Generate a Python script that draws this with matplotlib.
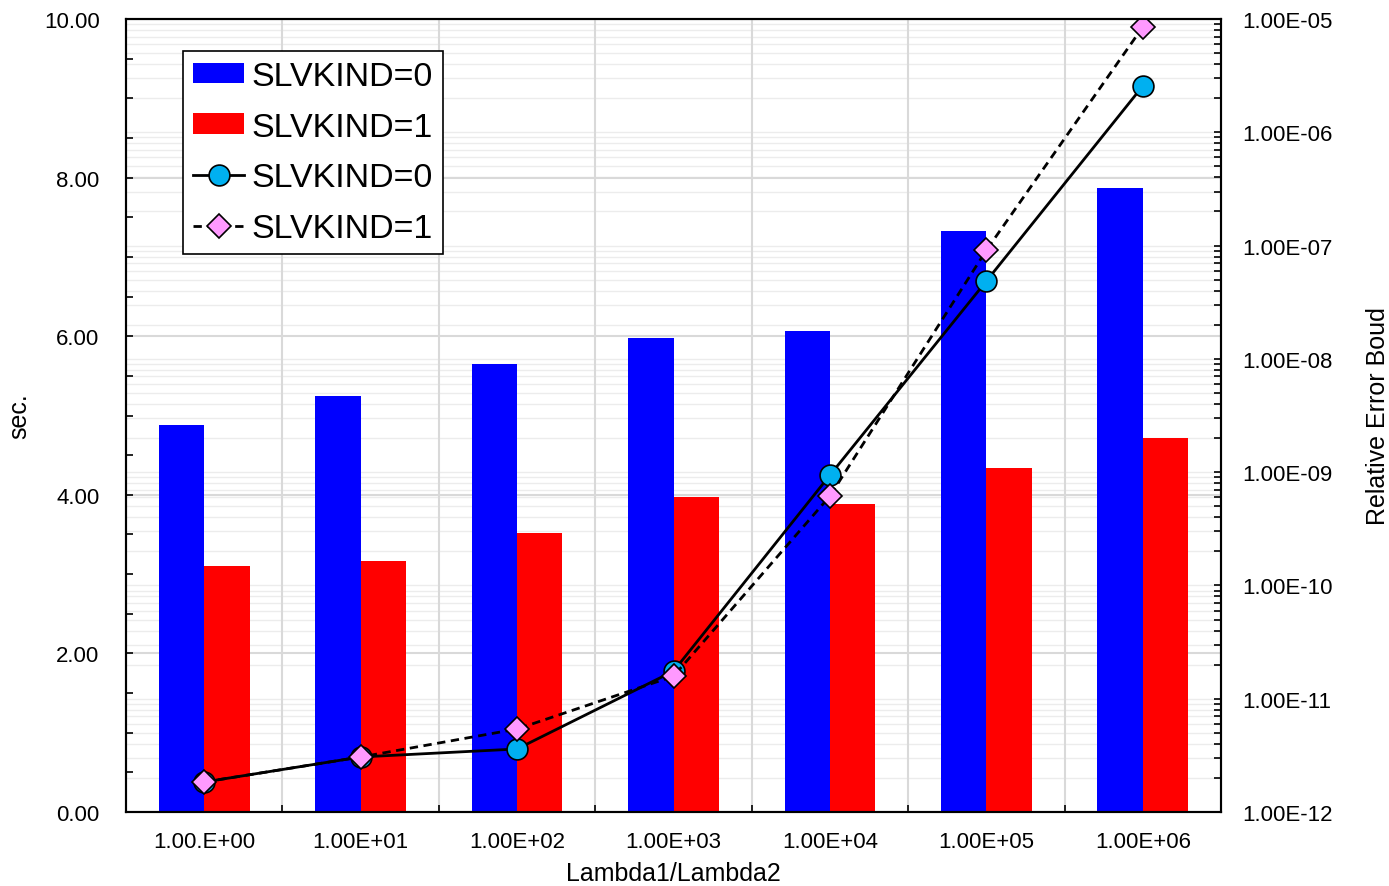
import numpy as np
import matplotlib.pyplot as plt
from matplotlib.ticker import FixedLocator, LogLocator, FuncFormatter, NullFormatter

plt.rcParams['font.family'] = ['Liberation Sans', 'DejaVu Sans']

categories = ['1.00.E+00', '1.00E+01', '1.00E+02', '1.00E+03', '1.00E+04', '1.00E+05', '1.00E+06']
time_slv0 = [4.88, 5.25, 5.65, 5.98, 6.07, 7.33, 7.87]
time_slv1 = [3.10, 3.16, 3.52, 3.97, 3.88, 4.34, 4.72]
err_slv0 = [1.84e-12, 3.06e-12, 3.6e-12, 1.75e-11, 9.4e-10, 4.86e-8, 2.56e-6]
err_slv1 = [1.84e-12, 3.06e-12, 5.4e-12, 1.58e-11, 6.15e-10, 9.1e-8, 8.5e-6]

x = np.arange(len(categories))
w = 0.29

fig = plt.figure(figsize=(13.89, 8.87), dpi=100)
rect = [126 / 1389, 74 / 887, 1095 / 1389, 793 / 887]

# grid-only log axes behind the bars
axg = fig.add_axes(rect)
axg.set_yscale('log')
axg.set_ylim(1e-12, 1e-5)
axg.set_xlim(-0.5, len(x) - 0.5)
axg.yaxis.set_minor_locator(LogLocator(base=10, subs=np.arange(2, 10), numticks=20))
axg.yaxis.set_major_locator(LogLocator(base=10, numticks=20))
axg.grid(True, which='both', axis='y', color='#ececec', lw=1)
axg.set_xticks([])
axg.yaxis.set_minor_formatter(NullFormatter())
axg.tick_params(which='both', length=0, labelleft=False, labelbottom=False)
for s in axg.spines.values():
    s.set_visible(False)

ax = fig.add_axes(rect)
ax.patch.set_visible(False)
ax.bar(x, time_slv0, width=-w, align='edge', color='#0000ff', label='SLVKIND=0', zorder=2)
ax.bar(x, time_slv1, width=w, align='edge', color='#ff0000', label='SLVKIND=1', zorder=2)
ax.set_xlim(-0.5, len(x) - 0.5)
ax.set_ylim(0, 10)
ax.set_yticks(np.arange(0, 10.01, 2))
ax.yaxis.set_minor_locator(FixedLocator(np.arange(0, 10.01, 0.5)))
ax.yaxis.set_major_formatter(FuncFormatter(lambda v, p: f'{v:.2f}'))
ax.set_xticks(x)
ax.set_xticklabels(categories)
ax.xaxis.set_minor_locator(FixedLocator(np.arange(0.5, len(x) - 0.5, 1)))
ax.grid(True, which='major', axis='y', color='#d9d9d9', lw=1.5, zorder=0)
ax.grid(True, which='minor', axis='x', color='#d9d9d9', lw=1.5, zorder=0)
ax.set_axisbelow(True)
ax.tick_params(axis='x', which='major', length=0, labelsize=16, pad=14)
ax.tick_params(axis='x', which='minor', direction='in', length=5, width=1.2)
ax.tick_params(axis='y', which='both', direction='in', length=5, width=1.2, labelsize=16, pad=19)
ax.set_ylabel('sec.', fontsize=18, labelpad=9)
ax.set_xlabel('Lambda1/Lambda2', fontsize=18, labelpad=6)
for s in ax.spines.values():
    s.set_linewidth(1.5)

ax2 = ax.twinx()
ax2.set_yscale('log')
ax2.set_ylim(1e-12, 1e-5)
ax2.plot(x, err_slv0, '-', color='black', lw=2, marker='o', ms=15,
         mfc='#00b0f0', mec='black', mew=1.2, label='SLVKIND=0')
ax2.plot(x, err_slv1, '--', color='black', lw=2, marker='D', ms=12,
         mfc='#ff99ff', mec='black', mew=1.2, label='SLVKIND=1', dashes=(3, 2))
ax2.yaxis.set_major_locator(LogLocator(base=10, numticks=20))
ax2.yaxis.set_minor_locator(LogLocator(base=10, subs=np.arange(2, 10), numticks=20))
ax2.yaxis.set_major_formatter(FuncFormatter(lambda v, p: f'{v:.2E}'))
ax2.yaxis.set_minor_formatter(NullFormatter())
ax2.tick_params(axis='y', which='both', direction='in', length=5, width=1.2, labelsize=16, pad=15)
ax2.set_ylabel('Relative Error Boud', fontsize=18, labelpad=24)
for s in ax2.spines.values():
    s.set_linewidth(1.5)

h1, l1 = ax.get_legend_handles_labels()
h2, l2 = ax2.get_legend_handles_labels()
leg = ax2.legend(h1 + h2, l1 + l2, loc='upper left', bbox_to_anchor=(0.052, 0.96),
                 borderaxespad=0, fontsize=24.5, fancybox=False, edgecolor='black',
                 framealpha=1, handlelength=1.5, handleheight=0.55, handletextpad=0.2,
                 labelspacing=0.58, borderpad=0.3)
leg.get_frame().set_linewidth(1.2)

fig.savefig('out.png', dpi=100)
